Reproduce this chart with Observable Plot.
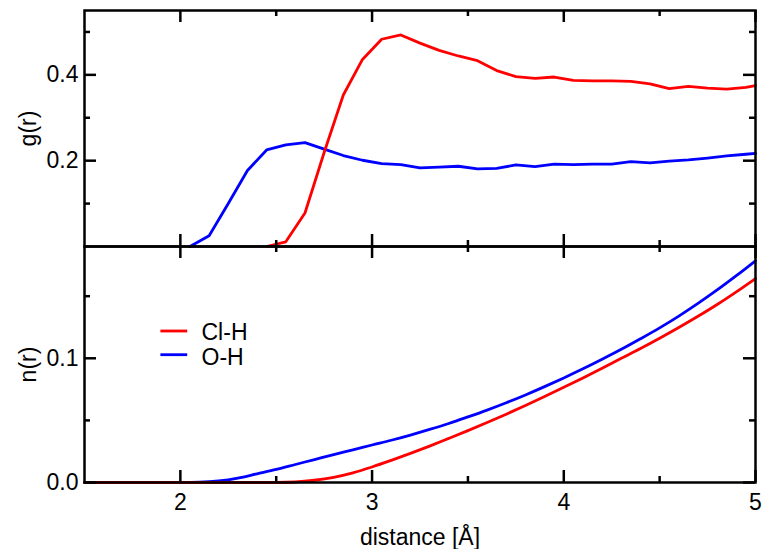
<!DOCTYPE html>
<html><head><meta charset="utf-8">
<script src="https://cdn.jsdelivr.net/npm/d3@7"></script>
<script src="https://cdn.jsdelivr.net/npm/@observablehq/plot@0.6"></script>
<style>
html,body{margin:0;padding:0;background:#fff;}
#chart{position:relative;width:765px;height:549px;overflow:hidden;background:#fff;}
#chart svg{position:absolute;left:0;}
</style></head><body><div id="chart"></div>
<script>
// ---- data ----
const seriesNames = ["Cl-H", "O-H"];
const seriesColors = ["#ff0000", "#0000ff"];

// g(r) for O-H
const gDistOH = [2.05,2.15,2.25,2.35,2.45,2.55,2.65,2.75,2.85,2.95,3.05,3.15,3.25,3.35,3.45,3.55,3.65,3.75,3.85,3.95,4.05,4.15,4.25,4.35,4.45,4.55,4.65,4.75,4.85,4.95,5.0];
const gOH = [0.0,0.025,0.100,0.177,0.225,0.237,0.242,0.227,0.212,0.201,0.193,0.191,0.183,0.185,0.187,0.181,0.182,0.190,0.186,0.192,0.191,0.192,0.192,0.198,0.195,0.199,0.202,0.206,0.211,0.215,0.217];

// g(r) for Cl-H
const gDistClH = [2.45,2.55,2.65,2.75,2.85,2.95,3.05,3.15,3.25,3.35,3.45,3.55,3.65,3.75,3.85,3.95,4.05,4.15,4.25,4.35,4.45,4.55,4.65,4.75,4.85,4.95,5.0];
const gClH = [0.0,0.011,0.078,0.219,0.353,0.436,0.483,0.493,0.474,0.457,0.444,0.433,0.410,0.396,0.392,0.395,0.387,0.386,0.386,0.385,0.379,0.368,0.373,0.369,0.367,0.371,0.375];

// n(r)
const nDist = [1.5,1.6,1.7,1.8,1.9,2.0,2.1,2.2,2.3,2.4,2.5,2.6,2.7,2.8,2.9,3.0,3.1,3.2,3.3,3.4,3.5,3.6,3.7,3.8,3.9,4.0,4.1,4.2,4.3,4.4,4.5,4.6,4.7,4.8,4.9,5.0];
const nOH = [0,0,0,0,0,0,0.0002,0.0012,0.0035,0.007,0.0105,0.0145,0.0185,0.0225,0.0263,0.0302,0.034,0.0382,0.0427,0.0475,0.0528,0.0583,0.0642,0.0705,0.0772,0.0842,0.0915,0.0992,0.1072,0.1157,0.1245,0.134,0.1442,0.155,0.1665,0.1785];
const nClH = [0,0,0,0,0,0,0,0,0,0,0,0.0004,0.0018,0.0042,0.0078,0.0125,0.0178,0.0234,0.0293,0.0355,0.0418,0.0483,0.055,0.062,0.0692,0.0766,0.0842,0.092,0.1,0.1079,0.1162,0.1248,0.1338,0.1433,0.1535,0.1642];

// axes
const xDomain = [1.5, 5];
const xMajor = [2, 3, 4, 5];
const xMinor = [2.5, 3.5, 4.5];
const gDomain = [0, 0.55];
const gMajor = [0.2, 0.4];
const gMinor = [0.1, 0.3, 0.5];
const nDomain = [0, 0.19];
const nMajor = [0.0, 0.1];
const nMinor = [0.05, 0.15];
const xLabel = "distance [Å]";
const gLabel = "g(r)";
const nLabel = "n(r)";

// ---- layout/style ----
const W = 765, ML = 84, MR = 10;
const FS = 23;
const FONT = "'Liberation Sans', Arial, Helvetica, sans-serif";
const TICK_W = 2.5, LINE_W = 2.8, FRAME_W = 2.5;
const MAJ = 12, MIN = 6;
const frameW = W - ML - MR;

const rows = (xs, ys) => xs.map((r, i) => ({r, v: ys[i]}));

function tickMarks(yMaj, yMin, frameH) {
  const m = [];
  for (const [arr, len] of [[xMajor, MAJ], [xMinor, MIN]]) {
    m.push(Plot.tickX(arr, {x: d => d, stroke: "black", strokeWidth: TICK_W, insetTop: frameH - len}));
    m.push(Plot.tickX(arr, {x: d => d, stroke: "black", strokeWidth: TICK_W, insetBottom: frameH - len}));
  }
  for (const [arr, len] of [[yMaj, MAJ], [yMin, MIN]]) {
    m.push(Plot.tickY(arr, {y: d => d, stroke: "black", strokeWidth: TICK_W, insetRight: frameW - len}));
    m.push(Plot.tickY(arr, {y: d => d, stroke: "black", strokeWidth: TICK_W, insetLeft: frameW - len}));
  }
  return m;
}

const baseStyle = {fontFamily: FONT, fontSize: FS + "px", overflow: "visible", background: "transparent", color: "black"};

// top panel
const topH = 247, topMT = 10, topMB = 1;
const topPlot = Plot.plot({
  width: W, height: topH, marginTop: topMT, marginBottom: topMB, marginLeft: ML, marginRight: MR,
  style: baseStyle,
  x: {domain: xDomain, axis: null},
  y: {domain: gDomain},
  marks: [
    Plot.line(rows(gDistOH, gOH), {x: "r", y: "v", stroke: seriesColors[1], strokeWidth: LINE_W}),
    Plot.line(rows(gDistClH, gClH), {x: "r", y: "v", stroke: seriesColors[0], strokeWidth: LINE_W}),
    Plot.frame({stroke: "black", strokeWidth: FRAME_W}),
    ...tickMarks(gMajor, gMinor, topH - topMT - topMB),
    Plot.axisY({ticks: gMajor, tickFormat: d3.format(".1f"), tickSize: 0, tickPadding: 6, fontSize: FS,
      label: gLabel, labelAnchor: "center", labelArrow: "none", labelOffset: 65})
  ]
});
topPlot.style.top = "0px";

// bottom panel
const botTop = 246, botH = 303, botMT = 0, botMB = 67;
const hline = {draw(ctx) { ctx.moveTo(-13.4, 0); ctx.lineTo(13.4, 0); }};
const legendLineDy = [84.5, 108.2];
const legendTextDy = [86.3, 111];
const legendMarks = [];
seriesNames.forEach((name, i) => {
  legendMarks.push(Plot.dot([name], {x: null, y: null, frameAnchor: "top-left", dx: 89.3, dy: legendLineDy[i],
    symbol: hline, r: 3, fill: "none", stroke: seriesColors[i], strokeWidth: LINE_W}));
  legendMarks.push(Plot.text([name], {x: null, y: null, frameAnchor: "top-left", dx: 117, dy: legendTextDy[i],
    textAnchor: "start", lineAnchor: "middle", fontSize: FS, fill: "black"}));
});

const botPlot = Plot.plot({
  width: W, height: botH, marginTop: botMT, marginBottom: botMB, marginLeft: ML, marginRight: MR,
  style: baseStyle,
  x: {domain: xDomain},
  y: {domain: nDomain},
  marks: [
    Plot.line(rows(nDist, nOH), {x: "r", y: "v", stroke: seriesColors[1], strokeWidth: LINE_W, curve: "monotone-x"}),
    Plot.line(rows(nDist, nClH), {x: "r", y: "v", stroke: seriesColors[0], strokeWidth: LINE_W, curve: "monotone-x"}),
    Plot.frame({stroke: "black", strokeWidth: FRAME_W}),
    ...tickMarks(nMajor, nMinor, botH - botMT - botMB),
    Plot.axisY({ticks: nMajor, tickFormat: d3.format(".1f"), tickSize: 0, tickPadding: 6, fontSize: FS,
      label: nLabel, labelAnchor: "center", labelArrow: "none", labelOffset: 65}),
    Plot.axisX({ticks: xMajor, tickFormat: d3.format("d"), tickSize: 0, tickPadding: 11, fontSize: FS,
      label: xLabel, labelAnchor: "center", labelArrow: "none", labelOffset: 62}),
    ...legendMarks
  ]
});
botPlot.style.top = botTop + "px";

const chart = document.getElementById("chart");
chart.appendChild(topPlot);
chart.appendChild(botPlot);
</script></body></html>
